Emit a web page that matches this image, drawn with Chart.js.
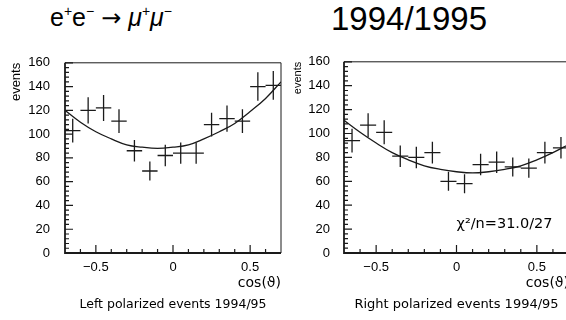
<!DOCTYPE html>
<html>
<head>
<meta charset="utf-8">
<script src="https://cdn.jsdelivr.net/npm/chart.js@4/dist/chart.umd.min.js"></script>
<style>
  body { margin: 0; width: 566px; height: 320px; overflow: hidden; background: #fff; position: relative; font-family: "Liberation Sans", Arial, sans-serif; color: #000; }
  #proc { position: absolute; left: 50px; top: 3px; font-size: 25px; white-space: nowrap; }
  #proc sup { font-size: 14px; vertical-align: 10px; line-height: 0; }
  #proc .arrow { font-family: "DejaVu Sans"; font-size: 24px; }
  #years { position: absolute; left: 331px; top: 0; font-size: 33px; white-space: nowrap; }
  .panel { position: absolute; top: 40px; height: 280px; }
  #leftBox { left: 0; width: 290px; }
  #rightBox { left: 280px; width: 300px; }
</style>
</head>
<body>
<div id="proc">e<sup>+</sup>e<sup>−</sup> <span class="arrow">→</span> <i>μ</i><sup>+</sup><i>μ</i><sup>−</sup></div>
<div id="years">1994/1995</div>
<div class="panel" id="leftBox"><canvas id="leftChart"></canvas></div>
<div class="panel" id="rightBox"><canvas id="rightChart"></canvas></div>
<script>
// bins of cos(theta), width 0.1
const binCenters = [-0.65, -0.55, -0.45, -0.35, -0.25, -0.15, -0.05, 0.05, 0.15, 0.25, 0.35, 0.45, 0.55, 0.65];
const binWidth = 0.1;

const leftEvents = [103, 120, 122, 111, 86, 69, 82, 84, 84, 108, 113, 111, 140, 141];
const leftErrors = [10, 11, 11, 10, 9, 8, 9, 9, 9, 10, 11, 10, 12, 12];
const rightEvents = [94, 107, 101, 81, 80, 84, 60, 58, 74, 76, 72, 71, 84, 88];
const rightErrors = [10, 10, 10, 9, 9, 9, 8, 8, 9, 9, 8, 8, 9, 9];

// fitted curves
const fitX = [-0.7, -0.6, -0.5, -0.4, -0.3, -0.2, -0.1, 0, 0.1, 0.2, 0.3, 0.4, 0.5, 0.6, 0.7];
const leftFit = [120, 110, 102, 96, 91, 89, 88, 89, 91, 96, 102, 109, 119, 130, 144];
const rightFit = [111, 101, 92, 84, 78, 73, 70, 68, 67, 68, 70, 73, 78, 84, 91];

const xTickValues = [-0.5, 0, 0.5];
const xMinorStep = 0.1;
const yTickValues = [0, 20, 40, 60, 80, 100, 120, 140, 160];
const yMinorPerMajor = 5;

const ink = "#1a1a1a";

function crossPoints(vals, errs) {
  const pts = [];
  binCenters.forEach((c, i) => {
    pts.push({ x: c - binWidth / 2, y: vals[i] }, { x: c + binWidth / 2, y: vals[i] }, { x: c, y: null });
    pts.push({ x: c, y: vals[i] - errs[i] }, { x: c, y: vals[i] + errs[i] }, { x: c, y: null });
  });
  return pts;
}

// frame, inward ticks and the caption under the plot
const framePlugin = {
  id: "frame",
  afterDatasetsDraw(chart, args, opts) {
    const { ctx, chartArea: a, scales: { x, y } } = chart;
    ctx.save();
    ctx.strokeStyle = ink;
    ctx.lineWidth = 1;
    ctx.beginPath();
    ctx.moveTo(a.left, a.top); ctx.lineTo(a.right, a.top); ctx.lineTo(a.right, a.bottom);
    ctx.stroke();
    ctx.lineWidth = 1.8;
    ctx.beginPath();
    ctx.moveTo(a.left, a.top); ctx.lineTo(a.left, a.bottom); ctx.lineTo(a.right, a.bottom);
    ctx.stroke();

    ctx.lineWidth = 1.2;
    ctx.beginPath();
    for (let i = 0; i < yTickValues.length; i++) {
      const py = y.getPixelForValue(yTickValues[i]);
      ctx.moveTo(a.left, py); ctx.lineTo(a.left + 8, py);
      if (i + 1 < yTickValues.length) {
        const step = (yTickValues[i + 1] - yTickValues[i]) / yMinorPerMajor;
        for (let k = 1; k < yMinorPerMajor; k++) {
          const my = y.getPixelForValue(yTickValues[i] + k * step);
          ctx.moveTo(a.left, my); ctx.lineTo(a.left + 4, my);
        }
      }
    }
    for (let k = Math.ceil(x.min / xMinorStep); k <= Math.floor(x.max / xMinorStep); k++) {
      const v = k * xMinorStep;
      const px = x.getPixelForValue(v);
      const major = xTickValues.some(t => Math.abs(t - v) < 1e-6);
      ctx.moveTo(px, a.bottom); ctx.lineTo(px, a.bottom - (major ? 8 : 4));
    }
    ctx.stroke();

    ctx.fillStyle = "#000";
    ctx.textBaseline = "middle";
    if (opts.note) {
      ctx.font = opts.noteFont;
      ctx.textAlign = "left";
      ctx.fillText(opts.note, x.getPixelForValue(opts.noteAt[0]), y.getPixelForValue(opts.noteAt[1]));
    }
    ctx.font = opts.font;
    ctx.textAlign = "center";
    ctx.fillText(opts.text, (a.left + a.right) / 2, opts.y);
    ctx.restore();
  }
};

function makeChart(id, vals, errs, fit, cfg) {
  return new Chart(document.getElementById(id), {
    type: "line",
    data: {
      datasets: [
        {
          data: crossPoints(vals, errs),
          borderColor: ink,
          borderWidth: 1.3,
          pointRadius: 0,
          spanGaps: false,
          tension: 0
        },
        {
          data: fitX.map((v, i) => ({ x: v, y: fit[i] })),
          borderColor: ink,
          borderWidth: 1.3,
          pointRadius: 0,
          tension: 0.4
        }
      ]
    },
    options: {
      responsive: true,
      maintainAspectRatio: false,
      animation: false,
      events: [],
      layout: { padding: { left: 0, right: cfg.padRight, top: 14, bottom: 26 } },
      plugins: {
        legend: { display: false },
        tooltip: { enabled: false },
        frame: { text: cfg.caption, font: cfg.captionFont, y: 265, note: cfg.note, noteFont: "14.5px 'DejaVu Sans'", noteAt: [0.0, 24] }
      },
      scales: {
        x: {
          type: "linear",
          min: -0.7,
          max: 0.7,
          grid: { display: false, drawTicks: false },
          border: { display: false },
          afterBuildTicks: s => { s.ticks = xTickValues.map(v => ({ value: v })); },
          afterFit: s => { s.height = 41; },
          ticks: {
            padding: 7,
            color: "#000",
            font: { family: "'Liberation Sans', Arial", size: 13 },
            callback: v => (v < 0 ? "\u2212" + Math.abs(v) : String(v))
          },
          title: {
            display: true,
            text: "cos(\u03d1)",
            align: "end",
            color: "#000",
            font: { family: "'DejaVu Sans'", size: 14 },
            padding: { top: 0, bottom: 2 }
          }
        },
        y: {
          min: 0,
          max: 160,
          grid: { display: false, drawTicks: false },
          border: { display: false },
          afterBuildTicks: s => { s.ticks = yTickValues.map(v => ({ value: v })); },
          afterFit: s => { s.width = cfg.yWidth; },
          ticks: {
            padding: cfg.yPad,
            color: "#000",
            font: { family: "'Liberation Sans', Arial", size: 13 }
          },
          title: {
            display: true,
            text: "events",
            align: "end",
            color: "#000",
            font: { family: "'Liberation Sans', Arial", size: cfg.yTitleSize },
            padding: { top: cfg.yTitlePad, bottom: 0 }
          }
        }
      }
    },
    plugins: [framePlugin]
  });
}

makeChart("leftChart", leftEvents, leftErrors, leftFit, {
  padRight: 9, yWidth: 65, yPad: 15, yTitleSize: 13, yTitlePad: 9,
  caption: "Left polarized events 1994/95", captionFont: "12.5px 'DejaVu Sans'", note: null
});
makeChart("rightChart", rightEvents, rightErrors, rightFit, {
  padRight: 11, yWidth: 64, yPad: 14, yTitleSize: 11, yTitlePad: 11,
  caption: "Right polarized events 1994/95", captionFont: "13px 'DejaVu Sans'", note: "\u03c7\u00b2/n=31.0/27"
});
</script>
</body>
</html>
